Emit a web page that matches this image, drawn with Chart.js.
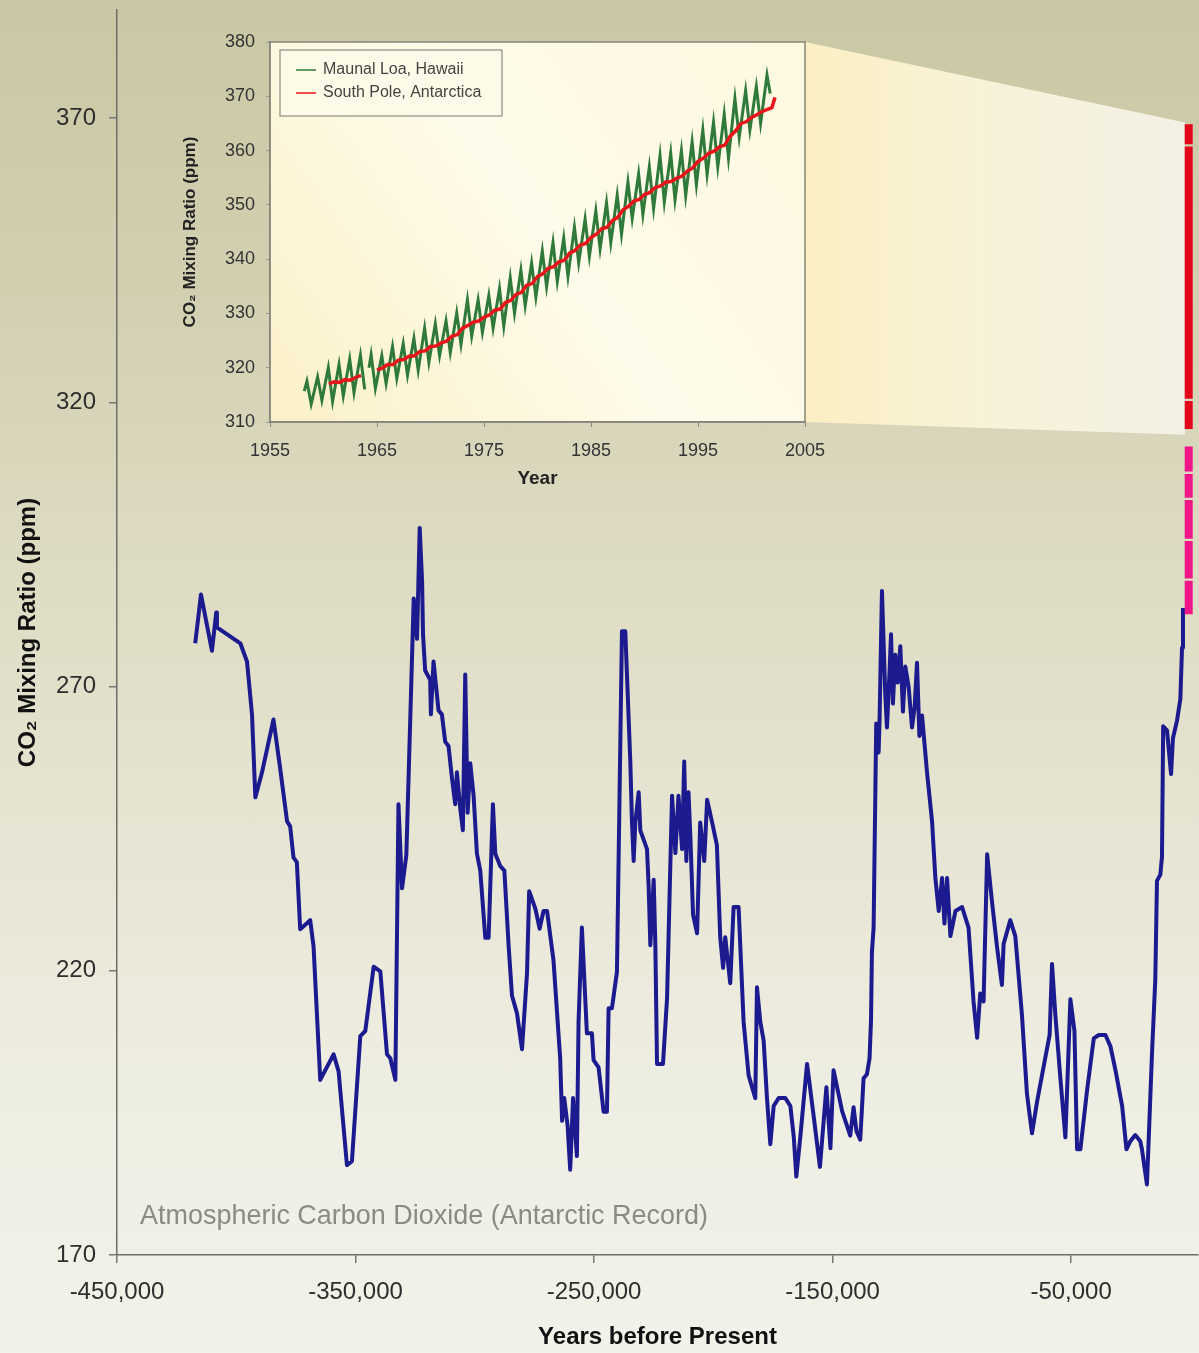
<!DOCTYPE html>
<html><head><meta charset="utf-8">
<script src="https://cdn.jsdelivr.net/npm/chart.js@4.4.1/dist/chart.umd.min.js"></script>
<style>
html,body{margin:0;padding:0;width:1199px;height:1353px;overflow:hidden;}
body{position:relative;background:linear-gradient(to bottom,#cac7a4 0%,#d3d0b2 22%,#dfddc5 45%,#e8e7d6 65%,#efeee3 82%,#f3f2ea 100%);}
#main{position:absolute;left:0;top:0;}
#inset{position:absolute;left:170px;top:20px;}
</style></head><body>
<canvas id="main" width="1199" height="1353"></canvas>
<canvas id="inset" width="700" height="480"></canvas>
<script>
// ---------- Main chart data (Antarctic ice core record) ----------
const antarcticYears = [-417200,-414800,-410200,-408400,-408100,-398300,-395500,-393400,-392000,-389200,
-384400,-381600,-378700,-377400,-376000,-374600,-373200,-369000,-367600,-364800,
-359200,-357100,-353600,-351500,-348000,-345900,-342400,-339600,-336800,-335400,
-333300,-332000,-330500,-328700,-325600,-324200,-323100,-322100,-321700,-320800,
-318700,-318400,-317300,-315200,-313800,-312400,-311000,-309600,-308200,-307500,
-306100,-305000,-304000,-303000,-301900,-300500,-299100,-297700,-295600,-294200,
-292400,-291400,-289300,-287600,-285800,-284400,-282300,-280200,-278100,-277200,
-274600,-272800,-271200,-269700,-267000,-264200,-263400,-262500,-261100,-260000,
-258800,-257200,-256500,-255100,-253000,-250900,-250200,-248100,-246000,-244600,
-243900,-242500,-240400,-238300,-236900,-234800,-234100,-233400,-232700,-231300,
-230600,-227800,-227100,-226400,-225000,-224300,-223600,-221100,-219400,-217300,
-215900,-214600,-213100,-212200,-211300,-210400,-209600,-208500,-206800,-205500,
-203800,-202600,-200500,-198500,-197100,-195900,-195000,-192900,-191500,-189400,
-187300,-185200,-182400,-181700,-180300,-178900,-177500,-176100,-174700,-172600,
-169800,-167700,-166300,-165200,-163500,-160700,-157900,-155300,-152600,-150900,
-149600,-146000,-142600,-141200,-140000,-138400,-137000,-135600,-134500,-133900,
-133500,-132800,-131700,-130700,-130300,-129300,-127900,-127200,-126100,-125500,
-124700,-123700,-122700,-121600,-120500,-119500,-118100,-116700,-115600,-114600,
-113600,-112500,-110400,-108300,-106900,-105500,-104100,-103100,-102000,-100600,
-98500,-95700,-93000,-90900,-89400,-88100,-86700,-85200,-83100,-81000,
-79000,-78300,-75500,-73400,-70600,-68500,-66400,-64300,-61500,-59000,
-58000,-56600,-54500,-52400,-50300,-48600,-47500,-46100,-43300,-40500,
-38400,-35600,-33500,-31400,-28600,-26800,-25200,-23100,-21000,-20300,
-18200,-16100,-14700,-14000,-12600,-11900,-11400,-9800,-8100,-7300,
-5600,-4200,-3500,-3100];
const antarcticCO2 = [277.6,286.2,276.3,283.0,280.4,277.6,274.4,265.1,250.5,254.9,
264.2,255.6,246.3,245.4,239.9,239.1,227.3,228.9,224.3,200.8,
205.3,202.3,185.8,186.5,208.5,209.4,220.7,219.9,205.3,204.6,
200.8,249.3,234.5,240.3,285.5,278.4,297.9,288.6,279.1,272.8,
271.2,265.1,274.4,265.8,265.1,260.3,259.5,254.0,249.3,254.9,
248.6,244.7,272.1,247.8,256.5,250.8,240.6,237.6,225.8,225.8,
249.3,240.6,238.4,237.6,224.3,215.6,212.5,206.2,219.6,234.0,
230.9,227.4,230.5,230.5,221.8,204.6,193.6,197.6,192.8,185.0,
197.6,187.4,211.0,227.6,209.0,209.0,204.3,203.0,195.2,195.2,
213.4,213.4,219.8,279.7,279.7,256.8,246.1,239.3,246.1,251.4,
244.7,241.4,234.7,224.5,236.0,224.5,203.6,203.6,215.1,250.8,
240.7,250.8,241.4,256.8,239.3,251.4,243.4,229.9,226.6,246.1,
239.3,250.1,246.1,242.1,225.9,220.5,225.9,217.8,231.2,231.2,
211.0,201.6,197.6,217.1,211.0,207.7,197.6,189.5,196.2,197.6,
197.6,196.2,190.9,183.8,190.9,203.6,194.3,185.5,199.5,188.8,
202.5,195.3,191.0,196.0,191.8,190.3,201.1,201.8,204.6,211.1,
223.3,227.6,263.5,258.4,264.2,286.8,268.5,262.8,272.8,279.2,
267.0,275.6,270.7,277.1,265.6,273.5,269.9,262.8,266.3,274.2,
261.3,264.9,254.9,246.3,236.3,230.5,236.3,228.3,236.3,226.1,
230.5,231.2,227.6,214.6,208.2,216.0,214.6,240.5,231.9,224.0,
217.5,224.7,228.9,226.1,212.2,198.3,191.4,196.9,203.2,208.7,
221.2,212.2,201.1,190.7,215.0,209.4,188.6,188.6,199.0,208.1,
208.7,208.7,206.7,202.5,196.2,188.6,190.0,191.1,190.0,188.6,
182.4,205.3,218.5,235.8,236.9,240.0,263.0,262.3,254.6,260.9,
264.0,267.8,276.8,283.8];
// recent (instrumental) record shown as vertical bar at present day
const recentBarYear = -700;
const recentRedCO2 = [368.9,365.4,null,365.0,320.6,null,320.2,315.3];
const recentPinkCO2 = [312.2,307.8,null,307.4,303.2,null,302.8,296.0,null,295.6,289.0,null,288.6,282.7];
const mainXTicks = [-450000,-350000,-250000,-150000,-50000];
const mainYTicks = [170,220,270,320,370];

// ---------- Inset data ----------
const maunaLoaYears = [1958.2,1958.45,1958.85,1959.45,1959.85,1960.45,1960.85,1961.45,1961.85,1962.45,1962.85,1963.45,1963.85,1964.05,1964.25,1964.45,1964.85,
1965.45,1965.85,1966.45,1966.85,1967.45,1967.85,1968.45,1968.85,1969.45,1969.85,1970.45,1970.85,1971.45,1971.85,1972.45,1972.85,1973.45,1973.85,1974.45,1974.85,
1975.45,1975.85,1976.45,1976.85,1977.45,1977.85,1978.45,1978.85,1979.45,1979.85,1980.45,1980.85,1981.45,1981.85,1982.45,1982.85,1983.45,1983.85,1984.45,1984.85,
1985.45,1985.85,1986.45,1986.85,1987.45,1987.85,1988.45,1988.85,1989.45,1989.85,1990.45,1990.85,1991.45,1991.85,1992.45,1992.85,1993.45,1993.85,1994.45,1994.85,
1995.45,1995.85,1996.45,1996.85,1997.45,1997.85,1998.45,1998.85,1999.45,1999.85,2000.45,2000.85,2001.45,2001.75];
const maunaLoaCO2 = [315.7,317.5,313.3,318.3,314.0,320.0,313.8,320.6,314.8,321.6,315.4,322.3,316.0,null,320.0,322.4,316.2,
322.2,317.1,323.9,318.0,324.4,318.6,325.4,319.5,327.3,321.0,328.1,322.2,328.6,322.8,330.1,324.3,332.5,325.8,332.5,326.5,
333.3,327.3,334.6,327.6,336.6,330.0,338.0,331.4,339.3,333.0,341.5,334.9,343.1,335.9,343.9,336.8,345.9,339.3,347.4,340.5,
348.9,341.9,350.4,343.0,351.8,344.6,354.2,347.5,355.7,348.2,357.0,349.3,359.1,350.5,359.5,350.9,360.0,351.7,361.6,353.7,
363.8,355.6,365.2,357.0,366.7,358.6,369.6,362.4,371.0,363.8,371.8,365.0,373.9,370.5];
const southPoleYears = [1960.5,1961.0,1961.5,1962.0,1962.5,1963.0,1963.5,1964.2,
1965.0,1965.5,1966.0,1966.5,1967.0,1967.5,1968.0,1968.5,1969.0,1969.5,1970.0,1970.5,1971.0,1971.5,1972.0,1972.5,1973.0,1973.5,1974.0,1974.5,
1975.0,1975.5,1976.0,1976.5,1977.0,1977.5,1978.0,1978.5,1979.0,1979.5,1980.0,1980.5,1981.0,1981.5,1982.0,1982.5,1983.0,1983.5,1984.0,1984.5,
1985.0,1985.5,1986.0,1986.5,1987.0,1987.5,1988.0,1988.5,1989.0,1989.5,1990.0,1990.5,1991.0,1991.5,1992.0,1992.5,1993.0,1993.5,1994.0,1994.5,
1995.0,1995.5,1996.0,1996.5,1997.0,1997.5,1998.0,1998.5,1999.0,1999.5,2000.0,2000.5,2001.0,2001.5,2001.9,2002.2];
const southPoleCO2 = [317.0,317.4,317.3,317.8,317.7,318.2,318.6,null,
319.6,319.9,320.6,320.6,321.4,321.5,322.1,322.2,323.0,323.1,323.9,324.0,324.6,324.9,325.8,326.1,327.3,327.8,328.4,328.6,
329.3,329.7,330.6,330.8,332.0,332.4,333.5,333.9,335.2,335.5,336.8,337.3,338.3,338.6,339.5,339.8,341.1,341.6,342.6,342.9,
344.0,344.6,345.6,345.9,347.1,347.7,349.1,349.7,350.7,351.0,351.9,352.3,353.2,353.5,354.2,354.3,354.9,355.3,356.2,356.8,
358.0,358.6,359.5,359.9,360.7,361.0,362.6,363.6,365.0,365.3,366.1,366.6,367.2,367.6,367.9,369.8];
const insetXTicks = [1955,1965,1975,1985,1995,2005];
const insetYTicks = [310,320,330,340,350,360,370,380];

const FONT = "'Liberation Sans', Arial, Helvetica, sans-serif";
const INSET_LEFT = 170, INSET_TOP = 20;

// ---------- Inset chart ----------
const insetDecor = {
  id: 'insetDecor',
  beforeDraw(chart) {
    const {ctx, chartArea: a} = chart;
    const g = ctx.createLinearGradient(a.left, a.bottom, a.right, a.top);
    g.addColorStop(0, '#fbf1c8');
    g.addColorStop(0.5, '#fefbea');
    g.addColorStop(1, '#fdf8e0');
    ctx.save(); ctx.fillStyle = g; ctx.fillRect(a.left, a.top, a.right - a.left, a.bottom - a.top); ctx.restore();
  },
  afterDraw(chart) {
    const {ctx, chartArea: a} = chart;
    ctx.save();
    ctx.strokeStyle = '#85857c'; ctx.lineWidth = 1.5;
    ctx.strokeRect(a.left, a.top, a.right - a.left, a.bottom - a.top);
    // legend box
    const lx = a.left + 10, ly = a.top + 8, lw = 222, lh = 66;
    ctx.fillStyle = 'rgba(253,250,232,0.95)';
    ctx.fillRect(lx, ly, lw, lh);
    ctx.strokeStyle = '#8e8e84'; ctx.lineWidth = 1.2;
    ctx.strokeRect(lx, ly, lw, lh);
    ctx.font = '16px ' + FONT; ctx.textBaseline = 'middle'; ctx.textAlign = 'left';
    chart.data.datasets.forEach((ds, i) => {
      const yy = ly + 20 + i * 23;
      ctx.strokeStyle = ds.borderColor; ctx.lineWidth = 1.5;
      ctx.beginPath(); ctx.moveTo(lx + 16, yy); ctx.lineTo(lx + 36, yy); ctx.stroke();
      ctx.fillStyle = '#444';
      ctx.fillText(ds.label, lx + 43, yy);
    });
    ctx.restore();
  }
};

const insetChart = new Chart(document.getElementById('inset'), {
  type: 'line',
  data: { datasets: [
    { label: 'Maunal Loa, Hawaii', data: maunaLoaYears.map((x, i) => ({x, y: maunaLoaCO2[i]})),
      borderColor: '#2f7a3a', borderWidth: 3, pointRadius: 0, tension: 0, order: 1 },
    { label: 'South Pole, Antarctica', data: southPoleYears.map((x, i) => ({x, y: southPoleCO2[i]})),
      borderColor: '#e8141c', borderWidth: 3.5, pointRadius: 0, tension: 0, order: 0 }
  ]},
  options: {
    responsive: false, animation: false,
    layout: { padding: { top: 22, right: 65, left: 0, bottom: 0 } },
    plugins: { legend: { display: false }, tooltip: { enabled: false } },
    scales: {
      x: { type: 'linear', min: 1955, max: 2005,
        afterBuildTicks: s => { s.ticks = insetXTicks.map(v => ({value: v})); },
        afterFit: s => { s.height = 78; },
        ticks: { font: { size: 18, family: FONT }, color: '#333', padding: 13, maxRotation: 0, autoSkip: false, callback: v => String(v) },
        grid: { display: true, drawOnChartArea: false, drawTicks: true, tickLength: 5, color: '#888', lineWidth: 1 },
        border: { display: true, color: '#85857c', width: 1.5 },
        title: { display: true, text: 'Year', font: { size: 19, weight: 'bold', family: FONT }, color: '#222', padding: { top: 0, bottom: 10 } }
      },
      y: { type: 'linear', min: 310, max: 380,
        afterBuildTicks: s => { s.ticks = insetYTicks.map(v => ({value: v})); },
        afterFit: s => { s.width = 100; s.paddingTop = 0; s.paddingBottom = 0; },
        ticks: { font: { size: 18, family: FONT }, color: '#333', padding: 11, callback: v => String(v) },
        grid: { display: true, drawOnChartArea: false, drawTicks: true, tickLength: 4, color: '#999', lineWidth: 1 },
        border: { display: true, color: '#85857c', width: 1.5 },
        title: { display: true, text: 'CO₂ Mixing Ratio (ppm)', font: { size: 17, weight: 'bold', family: FONT }, color: '#222', padding: { top: 10, bottom: 0 } }
      }
    }
  },
  plugins: [insetDecor]
});

// ---------- Main chart ----------
const mainDecor = {
  id: 'mainDecor',
  beforeDraw(chart) {
    const {ctx, scales: {x, y}} = chart;
    const ia = insetChart.chartArea;
    const x0 = INSET_LEFT + ia.right, yT0 = INSET_TOP + ia.top, yB0 = INSET_TOP + ia.bottom;
    const x1 = x.getPixelForValue(-2200);
    const yT1 = y.getPixelForValue(369.2), yB1 = y.getPixelForValue(314.3);
    const g = ctx.createLinearGradient(x0, 0, x1, 0);
    g.addColorStop(0, '#fbefc2');
    g.addColorStop(0.45, '#f8f2d8');
    g.addColorStop(1, '#f3f1e5');
    ctx.save();
    ctx.fillStyle = g;
    ctx.beginPath();
    ctx.moveTo(x0, yT0); ctx.lineTo(x1, yT1); ctx.lineTo(x1, yB1); ctx.lineTo(x0, yB0); ctx.closePath();
    ctx.fill();
    ctx.restore();
  },
  afterDatasetsDraw(chart) {
    const {ctx, chartArea: a} = chart;
    ctx.save();
    ctx.font = '28px ' + FONT;
    ctx.fillStyle = '#8b8b84';
    ctx.textBaseline = 'middle';
    ctx.textAlign = 'left';
    ctx.fillText('Atmospheric Carbon Dioxide (Antarctic Record)', a.left + 23, a.bottom - 39, 568);
    ctx.restore();
  }
};

const mainChart = new Chart(document.getElementById('main'), {
  type: 'line',
  data: { datasets: [
    { label: 'Antarctic ice core', data: antarcticYears.map((x, i) => ({x, y: antarcticCO2[i]})),
      borderColor: '#1c1a8f', borderWidth: 4, pointRadius: 0, tension: 0, borderJoinStyle: 'round', order: 2 },
    { label: 'Recent (red)', data: recentRedCO2.map(y => ({x: recentBarYear, y})),
      borderColor: '#e3061b', borderWidth: 8, pointRadius: 0, borderCapStyle: 'butt', spanGaps: false, order: 1 },
    { label: 'Recent (pink)', data: recentPinkCO2.map(y => ({x: recentBarYear, y})),
      borderColor: '#f0168a', borderWidth: 8, pointRadius: 0, borderCapStyle: 'butt', spanGaps: false, order: 1 }
  ]},
  options: {
    responsive: false, animation: false,
    layout: { padding: { top: 10, right: 1, left: 0, bottom: 0 } },
    plugins: { legend: { display: false }, tooltip: { enabled: false } },
    scales: {
      x: { type: 'linear', min: -450000, max: 3200,
        afterBuildTicks: s => { s.ticks = mainXTicks.map(v => ({value: v})); },
        afterFit: s => { s.height = 98; },
        ticks: { font: { size: 24, family: FONT }, color: '#2e2e2e', padding: 15, maxRotation: 0, autoSkip: false,
          callback: v => v.toLocaleString('en-US') },
        grid: { display: true, drawOnChartArea: false, drawTicks: true, tickLength: 8, color: '#777', lineWidth: 1.5 },
        border: { display: true, color: '#6e6e68', width: 1.5 },
        title: { display: true, text: 'Years before Present', font: { size: 24, weight: 'bold', family: FONT }, color: '#111', padding: { top: 0, bottom: 1 } }
      },
      y: { type: 'linear', min: 170, max: 389,
        afterBuildTicks: s => { s.ticks = mainYTicks.map(v => ({value: v})); },
        afterFit: s => { s.width = 117; s.paddingTop = 0; s.paddingBottom = 0; },
        ticks: { font: { size: 24, family: FONT }, color: '#2e2e2e', padding: 13, callback: v => String(v) },
        grid: { display: true, drawOnChartArea: false, drawTicks: true, tickLength: 8, color: '#777', lineWidth: 1.5 },
        border: { display: true, color: '#6e6e68', width: 1.5 },
        title: { display: true, text: 'CO₂ Mixing Ratio (ppm)', font: { size: 24, weight: 'bold', family: FONT }, color: '#111', padding: { top: 14, bottom: 0 } }
      }
    }
  },
  plugins: [mainDecor]
});
</script>
</body></html>
